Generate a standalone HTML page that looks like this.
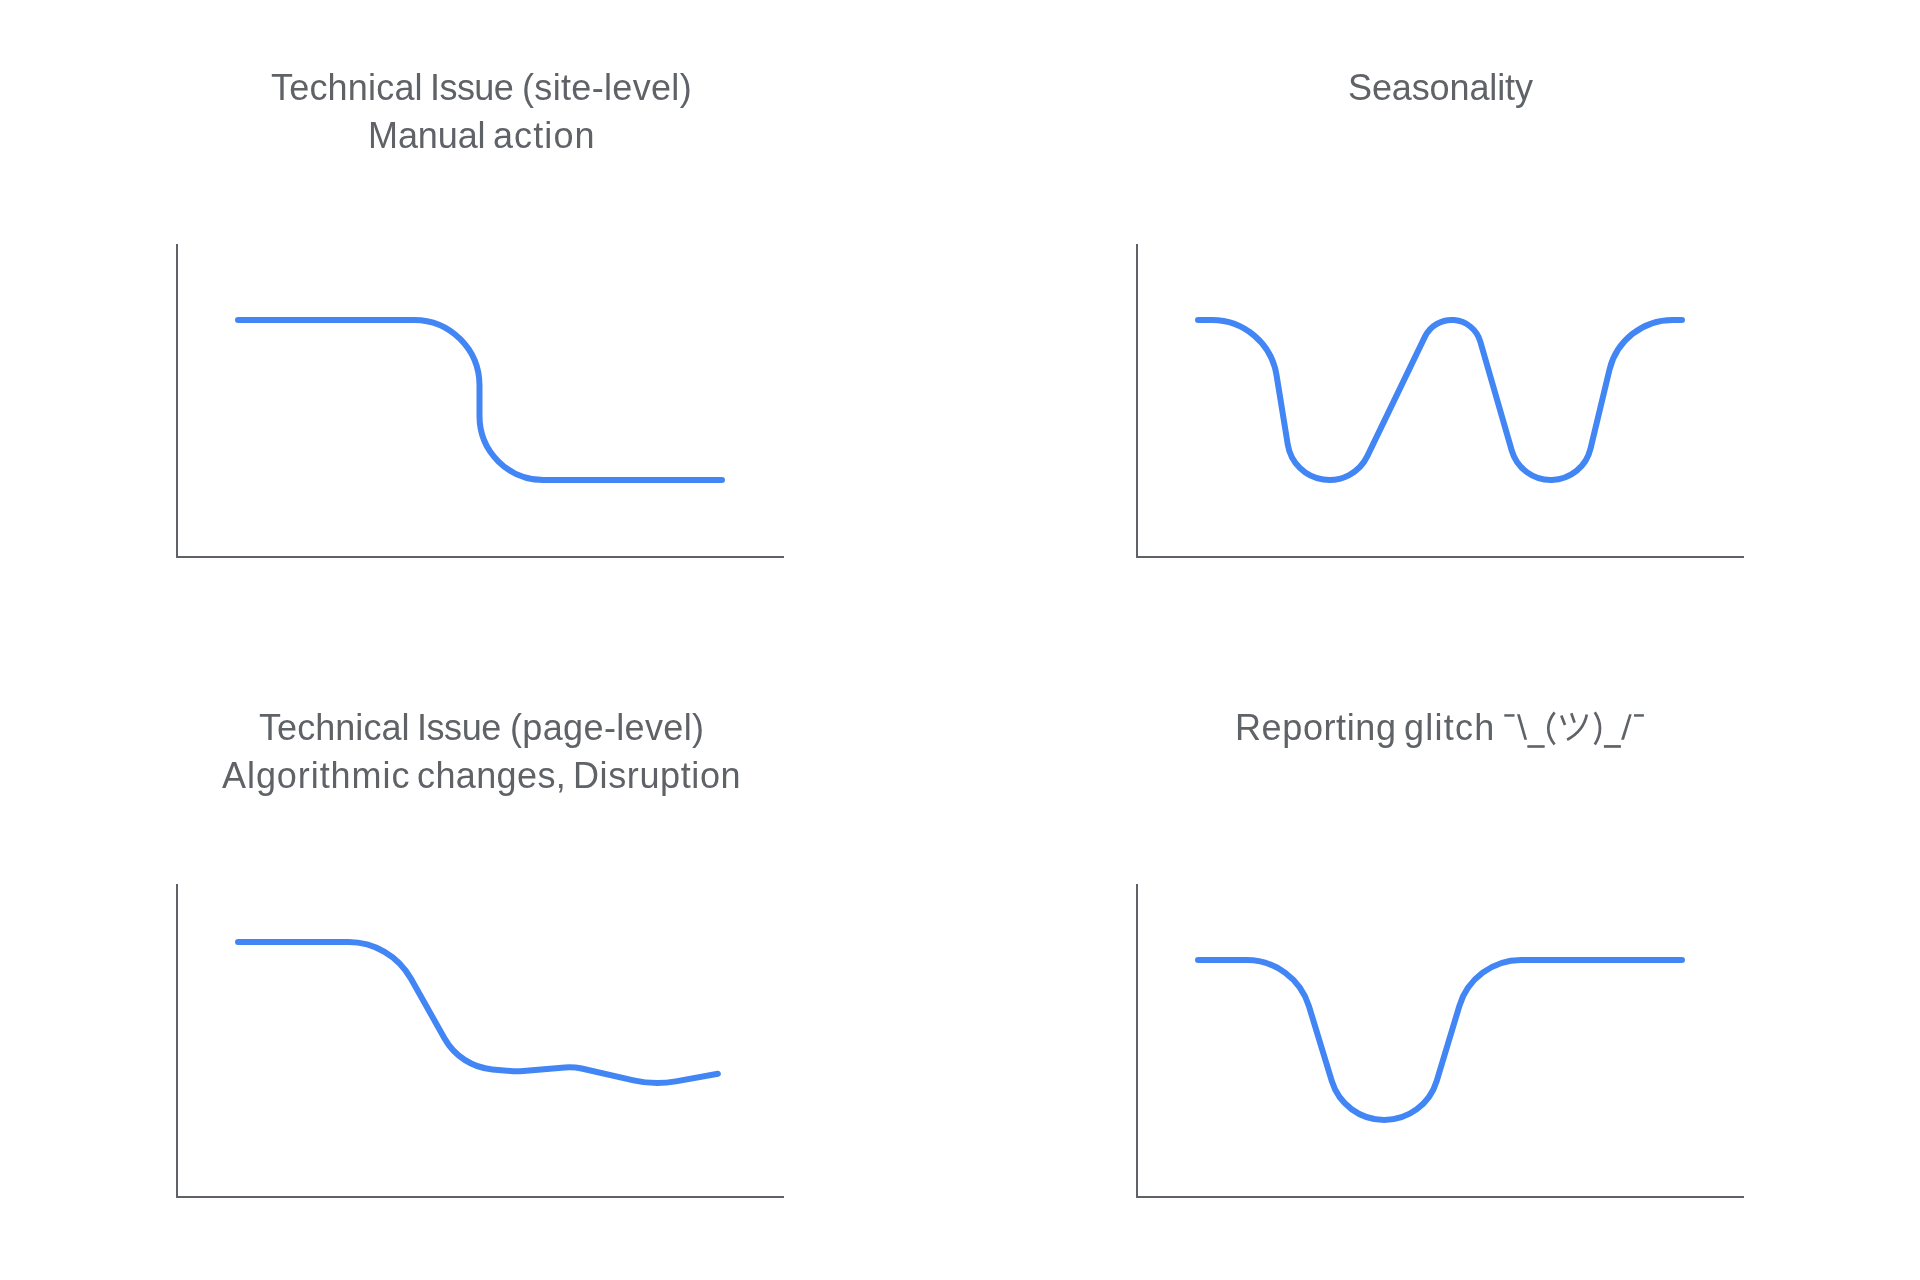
<!DOCTYPE html>
<html><head><meta charset="utf-8"><style>
html,body{margin:0;padding:0;background:#fff;width:1920px;height:1280px;overflow:hidden}
.w{position:absolute;font-family:"Liberation Sans",sans-serif;font-size:36px;line-height:48px;color:#5f6368;white-space:pre;will-change:transform}
svg{position:absolute;left:0;top:0}
</style></head><body>
<svg width="1920" height="1280" viewBox="0 0 1920 1280"><rect x="176" y="244" width="2" height="314" fill="#5f6368"/><rect x="176" y="556" width="608" height="2" fill="#5f6368"/><rect x="1136" y="244" width="2" height="314" fill="#5f6368"/><rect x="1136" y="556" width="608" height="2" fill="#5f6368"/><rect x="176" y="884" width="2" height="314" fill="#5f6368"/><rect x="176" y="1196" width="608" height="2" fill="#5f6368"/><rect x="1136" y="884" width="2" height="314" fill="#5f6368"/><rect x="1136" y="1196" width="608" height="2" fill="#5f6368"/><path d="M238.00 320.00 L414.00 320.00 A65.50 65.50 0 0 1 479.50 385.50 L479.50 416.00 A64.00 64.00 0 0 0 543.50 480.00 L722.00 480.00" fill="none" stroke="#4285f4" stroke-width="6" stroke-linecap="round" stroke-linejoin="round"/><path d="M1198.00 320.00 L1211.85 320.00 A65.50 65.50 0 0 1 1276.50 375.03 L1287.78 444.61 A42.13 42.13 0 0 0 1367.32 456.16 L1424.83 336.85 A29.77 29.77 0 0 1 1480.26 341.51 L1511.78 450.59 A40.72 40.72 0 0 0 1590.49 448.78 L1609.44 369.83 A65.00 65.00 0 0 1 1672.65 320.00 L1682.00 320.00" fill="none" stroke="#4285f4" stroke-width="6" stroke-linecap="round" stroke-linejoin="round"/><path d="M238.00 942.00 L348.38 942.00 A71.67 71.67 0 0 1 410.85 978.53 L444.58 1038.49 A61.17 61.17 0 0 0 492.42 1069.43 L510.32 1071.04 A73.35 73.35 0 0 0 523.33 1071.05 L564.78 1067.39 A54.25 54.25 0 0 1 581.63 1068.54 L633.54 1080.40 A105.46 105.46 0 0 0 675.90 1081.35 L717.90 1073.72" fill="none" stroke="#4285f4" stroke-width="6" stroke-linecap="round" stroke-linejoin="round"/><path d="M1198.00 960.00 L1246.35 960.00 A65.50 65.50 0 0 1 1309.00 1006.39 L1331.82 1081.20 A54.78 54.78 0 0 0 1436.65 1081.08 L1459.41 1005.82 A64.50 64.50 0 0 1 1521.15 960.00 L1682.00 960.00" fill="none" stroke="#4285f4" stroke-width="6" stroke-linecap="round" stroke-linejoin="round"/><g fill="#5f6368"><rect x="1504.3" y="714.2" width="10.2" height="2.5"/><polygon points="1517,714.2 1519.8,714.2 1527.1,739.8 1524.3,739.8"/><rect x="1527.3" y="745.2" width="17.4" height="2.6"/><path d="M1554.6 712.3 Q1542 728.4 1554.6 744.5" fill="none" stroke="#5f6368" stroke-width="2.7"/><path d="M1561.3 715.4 L1565.0 725.0 M1571.3 713.3 L1574.6 722.6" fill="none" stroke="#5f6368" stroke-width="2.7"/><path d="M1586.8 714.6 Q1583.4 731.4 1567.1 739.8" fill="none" stroke="#5f6368" stroke-width="2.7"/><path d="M1594.8 712.3 Q1605.2 728.4 1594.8 744.5" fill="none" stroke="#5f6368" stroke-width="2.7"/><rect x="1603.9" y="745.1" width="17" height="2.7"/><polygon points="1629.1,714.2 1631.7,714.2 1624.0,739.8 1621.1,739.8"/><rect x="1634" y="714.2" width="9.9" height="2.5"/></g></svg>
<span class="w" style="left:270.50px;top:64px;letter-spacing:0.188px">Technical</span>
<span class="w" style="left:430.10px;top:64px;letter-spacing:-0.550px">Issue</span>
<span class="w" style="left:521.75px;top:64px;letter-spacing:0.332px">(site-level)</span>
<span class="w" style="left:367.60px;top:112px;letter-spacing:-0.100px">Manual</span>
<span class="w" style="left:493.00px;top:112px;letter-spacing:1.100px">action</span>
<span class="w" style="left:1347.90px;top:64px;letter-spacing:-0.120px">Seasonality</span>
<span class="w" style="left:258.60px;top:704px;letter-spacing:0.062px">Technical</span>
<span class="w" style="left:417.40px;top:704px;letter-spacing:-0.450px">Issue</span>
<span class="w" style="left:509.70px;top:704px;letter-spacing:0.364px">(page-level)</span>
<span class="w" style="left:222.40px;top:752px;letter-spacing:0.935px">Algorithmic</span>
<span class="w" style="left:417.40px;top:752px;letter-spacing:0.386px">changes,</span>
<span class="w" style="left:572.60px;top:752px;letter-spacing:0.611px">Disruption</span>
<span class="w" style="left:1235.00px;top:704px;letter-spacing:0.613px">Reporting</span>
<span class="w" style="left:1403.90px;top:704px;letter-spacing:1.240px">glitch</span>
</body></html>
